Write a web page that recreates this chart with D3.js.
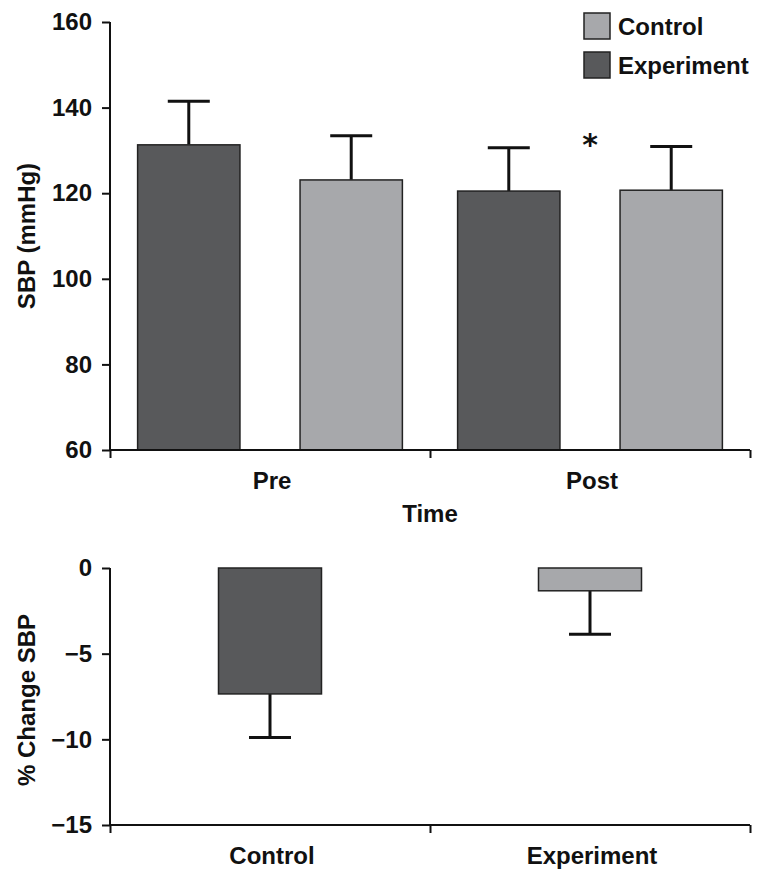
<!DOCTYPE html>
<html><head><meta charset="utf-8">
<script src="https://cdn.jsdelivr.net/npm/d3@7"></script>
<style>
body{margin:0;background:#fff;}
svg text{font-family:"Liberation Sans",Arial,Helvetica,sans-serif;font-weight:bold;fill:#111;}
</style></head>
<body>
<svg id="chart" width="772" height="878"></svg>
<script>
// ---- data ----
const timeCategories = ["Pre", "Post"];
const groups = ["Experiment", "Control"];           // order of bars within each time group
const sbpExperiment = [131.3, 120.5];
const sbpExperimentErr = [10.2, 10.1];
const sbpControl = [123.1, 120.7];
const sbpControlErr = [10.3, 10.2];
const sbpTicks = [60, 80, 100, 120, 140, 160];

const changeCategories = ["Control", "Experiment"];
const changeValues = [-7.35, -1.33];
const changeErr = [2.55, 2.53];
const changeTicks = [0, -5, -10, -15];

const legendLabels = ["Control", "Experiment"];
const colors = {Control: "#a7a8ab", Experiment: "#58595b"};
const changeColors = ["#58595b", "#a7a8ab"];

const svg = d3.select("#chart");
const FS = 24;

// ---- top chart ----
const topBox = {x0: 110, x1: 750, y0: 22, y1: 450};
const x = d3.scaleBand().domain(timeCategories).range([topBox.x0, topBox.x1]);
const xg = d3.scaleBand().domain(groups).range([0, x.bandwidth()]).paddingInner(0.37).paddingOuter(0.17);
const y = d3.scaleLinear().domain([60, 160]).range([topBox.y1, topBox.y0]);

const topData = [];
timeCategories.forEach((t, i) => {
  topData.push({t, g: "Experiment", v: sbpExperiment[i], e: sbpExperimentErr[i]});
  topData.push({t, g: "Control", v: sbpControl[i], e: sbpControlErr[i]});
});

const gTop = svg.append("g");
const eb = gTop.selectAll(".eb").data(topData).enter().append("g");
eb.append("line")
  .attr("x1", d => x(d.t) + xg(d.g) + xg.bandwidth()/2)
  .attr("x2", d => x(d.t) + xg(d.g) + xg.bandwidth()/2)
  .attr("y1", d => y(d.v)).attr("y2", d => y(d.v + d.e))
  .attr("stroke", "#111").attr("stroke-width", 3);
eb.append("line")
  .attr("x1", d => x(d.t) + xg(d.g) + xg.bandwidth()/2 - 21)
  .attr("x2", d => x(d.t) + xg(d.g) + xg.bandwidth()/2 + 21)
  .attr("y1", d => y(d.v + d.e)).attr("y2", d => y(d.v + d.e))
  .attr("stroke", "#111").attr("stroke-width", 3);
gTop.selectAll(".bar").data(topData).enter().append("rect")
  .attr("x", d => x(d.t) + xg(d.g))
  .attr("width", xg.bandwidth())
  .attr("y", d => y(d.v))
  .attr("height", d => y(60) - y(d.v))
  .attr("fill", d => colors[d.g])
  .attr("stroke", "#222").attr("stroke-width", 1.5);

const yAx = gTop.append("g").attr("transform", `translate(${topBox.x0},0)`)
  .call(d3.axisLeft(y).tickValues(sbpTicks).tickSize(8).tickPadding(10));
const xAx = gTop.append("g").attr("transform", `translate(0,${topBox.y1})`)
  .call(d3.axisBottom(d3.scaleLinear().domain([0, 2]).range([topBox.x0, topBox.x1]))
    .tickValues([0, 1, 2]).tickSize(8).tickFormat(""));
[yAx, xAx].forEach(a => {
  a.select(".domain").attr("stroke", "#111").attr("stroke-width", 2);
  a.selectAll(".tick line").attr("stroke", "#111").attr("stroke-width", 2);
  a.selectAll("text").style("font-size", FS + "px").attr("fill", "#111");
});
yAx.select(".domain").attr("d", `M0,${topBox.y0}V${topBox.y1}`);
xAx.select(".domain").attr("d", `M${topBox.x0},0H${topBox.x1}`);
gTop.selectAll(".xl").data(timeCategories).enter().append("text")
  .attr("x", d => x(d) + x.bandwidth()/2 + 2).attr("y", 489)
  .attr("text-anchor", "middle").style("font-size", FS + "px").text(d => d);
gTop.append("text").attr("x", 430).attr("y", 522).attr("text-anchor", "middle")
  .style("font-size", FS + "px").text("Time");
gTop.append("text").attr("transform", `translate(35,236) rotate(-90)`)
  .attr("text-anchor", "middle").style("font-size", "24px").text("SBP (mmHg)");
gTop.append("text").attr("x", x("Post") + x.bandwidth()/2).attr("y", 155)
  .attr("text-anchor", "middle").style("font-size", "30px").style("font-family", "DejaVu Sans").text("*");

// legend
const lg = svg.append("g").attr("transform", "translate(584,13)");
legendLabels.forEach((l, i) => {
  lg.append("rect").attr("x", 0).attr("y", i*39).attr("width", 26).attr("height", 26)
    .attr("fill", colors[l]).attr("stroke", "#222").attr("stroke-width", 1.5);
  lg.append("text").attr("x", 34).attr("y", i*39 + 22).style("font-size", FS + "px").text(l);
});

// ---- bottom chart ----
const botBox = {x0: 110, x1: 750, y0: 568, y1: 825};
const x2 = d3.scaleBand().domain(changeCategories).range([botBox.x0, botBox.x1]);
const y2 = d3.scaleLinear().domain([-15, 0]).range([botBox.y1, botBox.y0]);
const bw = 103;
const botData = changeCategories.map((c, i) => ({c, v: changeValues[i], e: changeErr[i], col: changeColors[i]}));
const gBot = svg.append("g");
const eb2 = gBot.selectAll(".eb2").data(botData).enter().append("g");
eb2.append("line")
  .attr("x1", d => x2(d.c) + x2.bandwidth()/2).attr("x2", d => x2(d.c) + x2.bandwidth()/2)
  .attr("y1", d => y2(d.v)).attr("y2", d => y2(d.v - d.e))
  .attr("stroke", "#111").attr("stroke-width", 3);
eb2.append("line")
  .attr("x1", d => x2(d.c) + x2.bandwidth()/2 - 21).attr("x2", d => x2(d.c) + x2.bandwidth()/2 + 21)
  .attr("y1", d => y2(d.v - d.e)).attr("y2", d => y2(d.v - d.e))
  .attr("stroke", "#111").attr("stroke-width", 3);
gBot.selectAll(".bar2").data(botData).enter().append("rect")
  .attr("x", d => x2(d.c) + x2.bandwidth()/2 - bw/2).attr("width", bw)
  .attr("y", y2(0)).attr("height", d => y2(d.v) - y2(0))
  .attr("fill", d => d.col).attr("stroke", "#222").attr("stroke-width", 1.5);

const yAx2 = gBot.append("g").attr("transform", `translate(${botBox.x0},0)`)
  .call(d3.axisLeft(y2).tickValues(changeTicks).tickSize(8).tickPadding(10)
    .tickFormat(d => d < 0 ? "\u2212" + Math.abs(d) : d));
const xAx2 = gBot.append("g").attr("transform", `translate(0,${botBox.y1})`)
  .call(d3.axisBottom(d3.scaleLinear().domain([0, 2]).range([botBox.x0, botBox.x1]))
    .tickValues([0, 1, 2]).tickSize(8).tickFormat(""));
[yAx2, xAx2].forEach(a => {
  a.select(".domain").attr("stroke", "#111").attr("stroke-width", 2);
  a.selectAll(".tick line").attr("stroke", "#111").attr("stroke-width", 2);
  a.selectAll("text").style("font-size", FS + "px").attr("fill", "#111");
});
yAx2.select(".domain").attr("d", `M0,${botBox.y0}V${botBox.y1}`);
xAx2.select(".domain").attr("d", `M${botBox.x0},0H${botBox.x1}`);
gBot.selectAll(".xl2").data(changeCategories).enter().append("text")
  .attr("x", d => x2(d) + x2.bandwidth()/2 + 2).attr("y", 864)
  .attr("text-anchor", "middle").style("font-size", FS + "px").text(d => d);
gBot.append("text").attr("transform", `translate(35,700) rotate(-90)`)
  .attr("text-anchor", "middle").style("font-size", FS + "px").text("% Change SBP");
</script>
</body></html>
